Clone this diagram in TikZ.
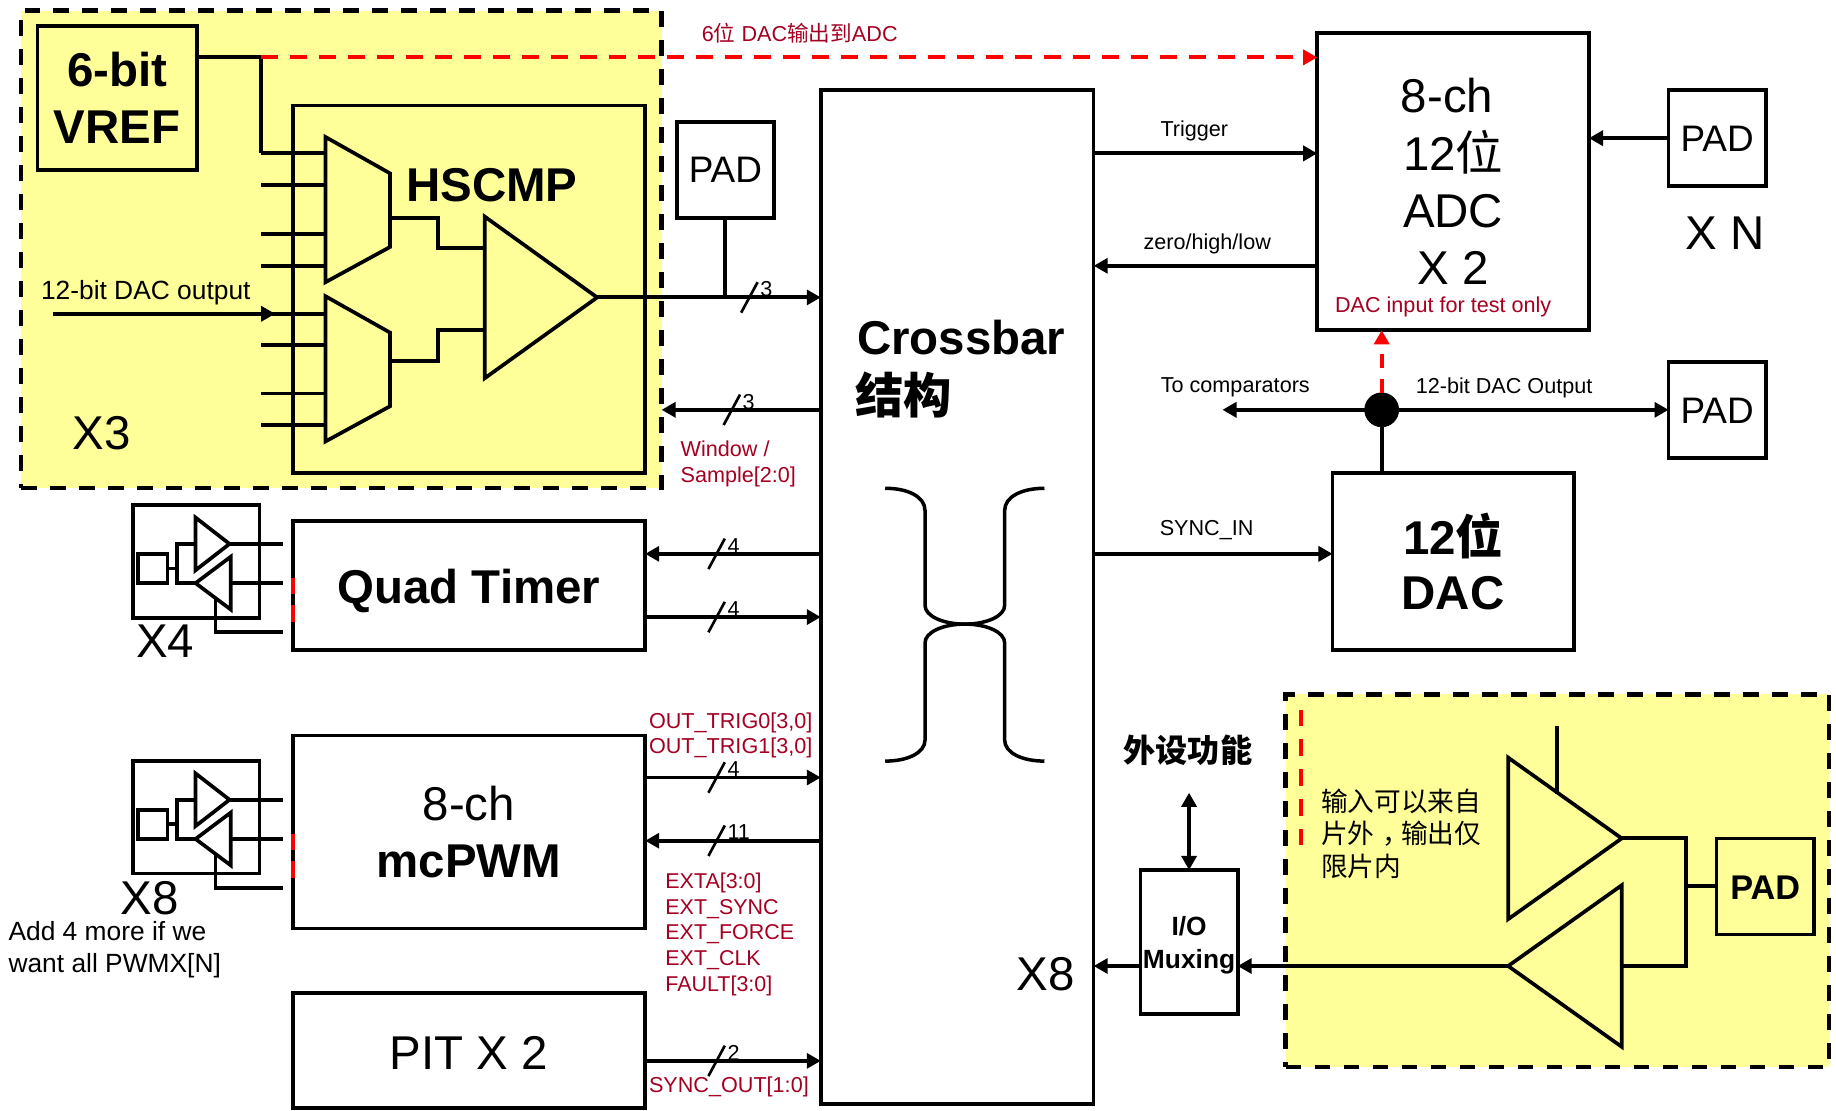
\documentclass[tikz,border=0pt]{standalone}
\usepackage{fontspec}
\usetikzlibrary{arrows.meta,calc}
\setmainfont{Liberation Sans}
\newfontfamily\cjk{Noto Sans CJK SC}
\newcommand{\un}{0.02342cm}
\definecolor{zoneyellow}{HTML}{FFFF99}
\definecolor{notered}{HTML}{A50021}
\begin{document}
\begin{tikzpicture}[
    x=0.02342cm, y=-0.02342cm,
    block/.style={rectangle, draw, line width=2.1pt, fill=white, inner sep=0pt, outer sep=0pt, align=center},
    zone/.style={rectangle, draw, line width=2.5pt, fill=zoneyellow, inner sep=0pt, outer sep=0pt, dash pattern=on 9pt off 7.5pt},
    gatebox/.style={rectangle, inner sep=0pt, outer sep=0pt},
    gate/.style={line width=2.1pt, line join=miter, fill=#1},
    wire/.style={line width=2.2pt},
    arrow/.style={-{Triangle[length=8pt,width=8.5pt]}, line width=2.2pt},
    reddash/.style={-{Triangle[length=8pt,width=8.5pt]}, line width=2.2pt, red, dash pattern=on 9.5pt off 7pt},
    huge/.style={font=\fontsize{27}{32.6}\selectfont},
    hugeb/.style={font=\fontsize{27}{32.6}\selectfont\bfseries},
    padtext/.style={font=\fontsize{21}{24}\selectfont, text height=15pt, text depth=0pt},
    small/.style={font=\fontsize{12.3}{14.6}\selectfont, inner sep=0pt},
    note/.style={small, text=notered, anchor=west, align=left},
    slash/.style={line width=1.5pt}
]
\useasboundingbox (0,0) rectangle (1568,948);
\node[zone, minimum width=547*\un, minimum height=408*\un] (zonea) at (291.5,213) {};
\node[zone, minimum width=464*\un, minimum height=318*\un] (zoneb) at (1330,752) {};

\node[block, fill=zoneyellow, hugeb, minimum width=136*\un, minimum height=123*\un] (vref) at (100,83.5) {6-bit\\VREF};
\node[block, fill=zoneyellow, minimum width=301*\un, minimum height=314*\un] (hscmp) at (400.5,247) {};
\node[hugeb, inner sep=0pt] (hscmplbl) at (420,158) {HSCMP};
\node[huge, inner sep=0pt] (xthree) at (87,370) {X3};
\node[block, padtext, minimum width=83*\un, minimum height=82*\un] (padcmp) at (619.5,145) {PAD};
\node[block, minimum width=233*\un, minimum height=866*\un] (xbar) at (817.5,510) {};
\node[block, huge, minimum width=232*\un, minimum height=254*\un] (adc) at (1241,155) {8-ch\hspace*{7pt}\\12{\cjk 位}\\ADC\\X 2};
\node[block, padtext, minimum width=83*\un, minimum height=82*\un] (padadc) at (1466.5,118) {PAD};
\node[block, padtext, minimum width=83*\un, minimum height=82*\un] (paddac) at (1466.5,350) {PAD};
\node[block, hugeb, minimum width=206*\un, minimum height=151*\un] (dac) at (1241,479.5) {12{\cjk\bfseries 位}\\[-1pt]DAC};
\node[block, hugeb, text height=21pt, text depth=0pt, minimum width=301*\un, minimum height=110*\un] (qtimer) at (400.5,500) {Quad Timer};
\node[block, huge, minimum width=301*\un, minimum height=165*\un] (mcpwm) at (400.5,710.5) {8-ch\\\bfseries mcPWM};
\node[block, huge, text height=22pt, text depth=0pt, minimum width=301*\un, minimum height=98*\un] (pit) at (400.5,897) {PIT X 2};
\node[block, font=\fontsize{15}{18.6}\selectfont\bfseries, minimum width=83*\un, minimum height=123*\un] (iomux) at (1015.5,804.5) {\rule{0pt}{14.5pt}I/O\\Muxing};
\node[block, fill=zoneyellow, padtext, font=\fontsize{19.5}{24}\selectfont\bfseries, minimum width=83*\un, minimum height=82*\un] (padio) at (1507.5,757) {PAD};

% crossbar title and symbol
\node[hugeb, inner sep=0pt] (xbarlbl) at (821,288) {Crossbar};
\node[font=\fontsize{27.5}{32}\cjk\bfseries, inner sep=0pt] (xbarzh) at (772,337) {结构};
\node[huge, inner sep=0pt] (xeight) at (893,832) {X8};
\coordinate (xtl) at (756,417);
\coordinate (xtr) at (892,417);
\coordinate (xbl) at (756,650);
\coordinate (xbr) at (892,650);
\coordinate (xmid) at (824,533);
\draw[line width=2pt] (xtl) .. controls (775,417) and (790,424) .. (790,436) -- (790,517) .. controls (790,526) and (805,533) .. (xmid) .. controls (843,533) and (858,526) .. (858,517) -- (858,436) .. controls (858,424) and (873,417) .. (xtr);
\draw[line width=2pt] (xbl) .. controls (775,650) and (790,643) .. (790,632) -- (790,549) .. controls (790,540) and (805,533) .. (xmid) .. controls (843,533) and (858,540) .. (858,549) -- (858,632) .. controls (858,643) and (873,650) .. (xbr);

% comparator zone
\node[gatebox, minimum width=55*\un, minimum height=124*\un] (muxa) at (305.5,179) {};
\node[gatebox, minimum width=55*\un, minimum height=124*\un] (muxb) at (305.5,315) {};
\node[gatebox, minimum width=96*\un, minimum height=138*\un] (cmp) at (414+48,254) {};
\foreach \pin in {131,158,200,227,268,295,336,363} {
    \coordinate (pin\pin) at (223,\pin);
    \draw[wire] (pin\pin) -- (muxa.west |- pin\pin);
}
\draw[gate=zoneyellow] (muxa.north west) -- ($(muxa.north east)+(0,31)$) -- ($(muxa.south east)+(0,-30)$) -- (muxa.south west) -- cycle;
\draw[gate=zoneyellow] (muxb.north west) -- ($(muxb.north east)+(0,31)$) -- ($(muxb.south east)+(0,-30)$) -- (muxb.south west) -- cycle;
\draw[gate=zoneyellow] (cmp.north west) -- (cmp.east) -- (cmp.south west) -- cycle;
\draw[wire] (muxa.east) ++(0,7) -- ++(41,0) |- (cmp.west |- 0,212);
\draw[wire] (muxb.east) ++(0,-7) -- ++(41,0) |- (cmp.west |- 0,282);
\draw[wire] (vref.east |- 0,49) -| (pin131);
\coordinate (dacin) at (45,268);
\draw[arrow] (dacin) -- (235,268);
\node[font=\fontsize{15}{18}\selectfont, inner sep=0pt] (daclbl) at (124.5,250) {12-bit DAC output};
\draw[reddash] (pin131 |- vref.east |- 0,49) -- (adc.west |- 0,49);
\node[note, anchor=center] (vreflbl) at (683,28) {6{\cjk 位} DAC{\cjk 输出到}ADC};

% left side connectors
\draw[wire] (padcmp) -- (padcmp |- cmp.east);
\draw[arrow] (cmp.east) -- (xbar.west |- cmp.east);
\draw[arrow] (xbar.west |- 0,350) -- (zonea.east |- 0,350);
\draw[arrow] (xbar.west |- 0,473) -- (qtimer.east |- 0,473);
\draw[arrow] (qtimer.east |- 0,527) -- (xbar.west |- 0,527);
\draw[arrow] (mcpwm.east |- 0,664) -- (xbar.west |- 0,664);
\draw[arrow] (xbar.west |- 0,718) -- (mcpwm.east |- 0,718);
\draw[arrow] (pit.east |- 0,906) -- (xbar.west |- 0,906);
\foreach \sx/\sy/\bits [count=\i] in {640/254/3, 625/350/3, 612/473/4, 612/527/4, 612/664/4, 612/718/11, 612/906/2} {
    \draw[slash] (\sx-7,\sy+13) -- (\sx+7,\sy-13);
    \node[small, anchor=west] (bits\i) at (\sx+9,\sy-7) {\bits};
}
\node[note] (winlbl) at (581,396) {Window /\\Sample[2:0]};
\node[note] (trglbl) at (554,628) {OUT\_TRIG0[3,0]\\OUT\_TRIG1[3,0]};
\node[note, font=\fontsize{12.2}{14.6}\selectfont] (extlbl) at (568,798) {EXTA[3:0]\\EXT\_SYNC\\EXT\_FORCE\\EXT\_CLK\\FAULT[3:0]};
\node[note] (synclbl) at (554,928) {SYNC\_OUT[1:0]};

% buffers beside the timers
\foreach \ic/\dy in {qt/0, pw/218.5} {
    \node[block, fill=none, minimum width=108*\un, minimum height=96*\un] (\ic box) at (167.5,479.5+\dy) {};
    \node[block, fill=none, minimum width=25*\un, minimum height=25*\un] (\ic reg) at (130.5,485.5+\dy) {};
    \node[gatebox, minimum width=29*\un, minimum height=45*\un] (\ic up) at (181.5,464.5+\dy) {};
    \node[gatebox, minimum width=30*\un, minimum height=45*\un] (\ic dn) at (182,498+\dy) {};
    \coordinate (\ic outa) at (242,464.5+\dy);
    \coordinate (\ic outb) at (242,498+\dy);
    \coordinate (\ic outc) at (242,540+\dy);
    \draw[wire] (\ic reg.east) -- (151,485.5+\dy);
    \draw[wire] (\ic up.west) -- (151,464.5+\dy) -- (151,498+\dy) -- (\ic dn.west);
    \draw[gate=none] (\ic up.north west) -- (\ic up.east) -- (\ic up.south west) -- cycle;
    \draw[gate=none] (\ic dn.north east) -- (\ic dn.west) -- (\ic dn.south east) -- cycle;
    \draw[wire] (\ic up.east) -- (\ic outa);
    \draw[wire] (\ic dn.east) -- (\ic outb);
    \draw[wire] (184,510.5+\dy) |- (\ic outc);
    \draw[line width=2.1pt, red] (250,494+\dy) -- (250,507+\dy);
    \draw[line width=2.1pt, red] (250,517+\dy) -- (250,531+\dy);
}
\node[huge, inner sep=0pt] (xfour) at (141,548) {X4};
\node[huge, inner sep=0pt] (xeightb) at (128,767) {X8};
\node[font=\fontsize{15}{18}\selectfont, inner sep=0pt, anchor=west, align=left] (addlbl) at (7,811) {Add 4 more if we\\want all PWMX[N]};

% ADC and DAC side
\draw[arrow] (xbar.east |- 0,131) -- (adc.west |- 0,131);
\draw[arrow] (adc.west |- 0,227) -- (xbar.east |- 0,227);
\draw[arrow] (padadc) -- (adc.east |- padadc);
\draw[arrow] (xbar.east |- 0,473) -- (dac.west |- 0,473);
\node[small] (trigger) at (1020,112) {Trigger};
\node[small] (zhl) at (1031,208) {zero/high/low};
\node[small] (syncin) at (1030.5,453) {SYNC\_IN};
\node[small] (tocmp) at (1055,331) {To comparators};
\node[small] (dacout) at (1284.5,331) {12-bit DAC Output};
\node[note, anchor=center] (testlbl) at (1232.5,262) {DAC input for test only};
\node[huge, inner sep=0pt] (xn) at (1473,199) {X N};
\node[circle, fill=black, draw=black, minimum size=29*\un, inner sep=0pt, outer sep=0pt] (jn) at (1180,350) {};
\coordinate (cmpout) at (1044,350);
\draw[arrow] (jn) -- (cmpout);
\draw[arrow] (jn) -- (paddac);
\draw[line width=2.1pt] (jn) -- (jn |- dac.north);
\draw[reddash, dash pattern=on 8pt off 6pt] (jn.north) -- (jn |- adc.south);

% peripheral mux side
\node[font=\fontsize{18.3}{22}\cjk\bfseries, inner sep=0pt] (funclbl) at (1014.5,641) {外设功能};
\draw[{Triangle[length=8pt,width=8.5pt]}-{Triangle[length=8pt,width=8.5pt]}, line width=2.2pt] (iomux.north |- 0,677) -- (iomux.north);
\draw[arrow] (iomux.west |- 0,825) -- (xbar.east |- 0,825);
\node[gatebox, minimum width=97*\un, minimum height=138*\un] (bufout) at (1336.5,716) {};
\node[gatebox, minimum width=97*\un, minimum height=138*\un] (bufin) at (1336.5,825) {};
\coordinate (oepin) at (1330,620);
\coordinate (busr) at (1440,757);
\draw[gate=zoneyellow] (bufout.north west) -- (bufout.east) -- (bufout.south west) -- cycle;
\draw[gate=zoneyellow] (bufin.north east) -- (bufin.west) -- (bufin.south east) -- cycle;
\draw[wire] (oepin) -- (1330,678);
\draw[wire] (bufout.east) -| (busr);
\draw[wire] (bufin.east) -| (busr);
\draw[wire] (busr) -- (padio.west);
\draw[arrow] (bufin.west) -- (iomux.east |- bufin.west);
\coordinate (redtop) at (1111,606);
\coordinate (redend) at (1111,722);
\draw[line width=2.2pt, red, dash pattern=on 9.5pt off 7.5pt] (redtop) -- (redend);
\node[font=\fontsize{15.2}{18.3}\cjk, inner sep=0pt, anchor=west, align=left] (inlbl) at (1128,712) {输入可以来自\\片外\hspace*{.3em}，\hspace*{-.3em}输出仅\\限片内};
\end{tikzpicture}
\end{document}
